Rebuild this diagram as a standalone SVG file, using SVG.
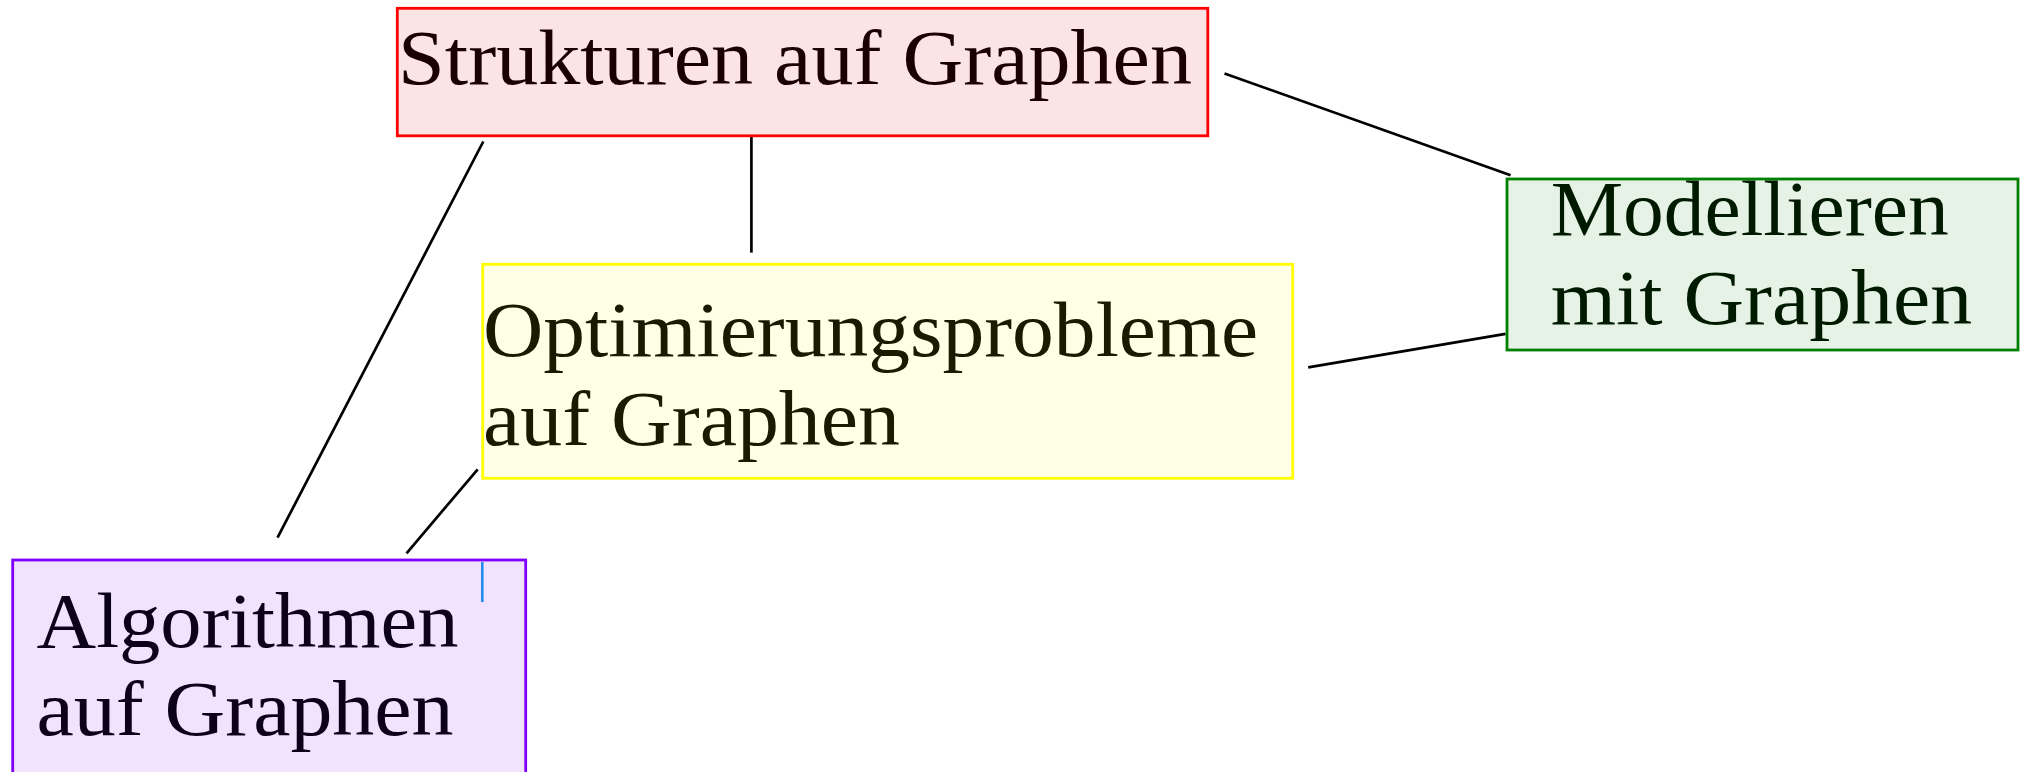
<svg xmlns="http://www.w3.org/2000/svg" width="2021" height="772" viewBox="0 0 2021 772">
  <style>
    .box { stroke-width: 2.8; }
    .lbl { font-family: "Liberation Serif", "DejaVu Serif", serif; font-size: 79px; }
    .edge { stroke: #000; stroke-width: 2.7; fill: none; stroke-linecap: butt; }
  </style>
  <rect width="2021" height="772" fill="#ffffff"/>

  <!-- connectors -->
  <g id="connectors">
    <line class="edge" x1="1224.5" y1="73.5" x2="1510.6" y2="175.3"/>
    <line class="edge" x1="751.4" y1="135.5" x2="751.4" y2="252.6"/>
    <line class="edge" x1="483.3" y1="141.5" x2="277.5" y2="537.7"/>
    <line class="edge" x1="477.7" y1="469.3" x2="406.5" y2="553.3"/>
    <line class="edge" x1="1308.2" y1="367.3" x2="1505.5" y2="333.8"/>
  </g>

  <!-- Strukturen auf Graphen -->
  <g id="strukturen">
    <rect class="box" x="397.3" y="8.3" width="810.5" height="127.5" fill="#fde4e4" stroke="#ff0000"/>
    <text class="lbl" x="398" y="84" fill="#1a0000" textLength="794" lengthAdjust="spacingAndGlyphs">Strukturen auf Graphen</text>
  </g>

  <!-- Modellieren mit Graphen -->
  <g id="modellieren">
    <rect class="box" x="1507" y="179" width="511" height="171" fill="#e6f2e6" stroke="#008000"/>
    <text class="lbl" x="1550.7" y="235" fill="#001a00" textLength="398" lengthAdjust="spacingAndGlyphs">Modellieren</text>
    <text class="lbl" x="1550.7" y="324" fill="#001a00" textLength="421.5" lengthAdjust="spacingAndGlyphs">mit Graphen</text>
  </g>

  <!-- Optimierungsprobleme auf Graphen -->
  <g id="optimierung">
    <rect class="box" x="482.7" y="264.3" width="810" height="214" fill="#ffffe6" stroke="#ffff00"/>
    <text class="lbl" x="483" y="356" fill="#1a1a00" textLength="775" lengthAdjust="spacingAndGlyphs">Optimierungsprobleme</text>
    <text class="lbl" x="483" y="445" fill="#1a1a00" textLength="417" lengthAdjust="spacingAndGlyphs">auf Graphen</text>
  </g>

  <!-- Algorithmen auf Graphen -->
  <g id="algorithmen">
    <rect class="box" x="12.7" y="560" width="513" height="240" fill="#f1e3fd" stroke="#8000ff"/>
    <line x1="482.3" y1="562" x2="482.3" y2="602" stroke="#1e88f0" stroke-width="2.5"/>
    <text class="lbl" x="36.5" y="647" fill="#0d001a" textLength="422" lengthAdjust="spacingAndGlyphs">Algorithmen</text>
    <text class="lbl" x="36.5" y="735" fill="#0d001a" textLength="417" lengthAdjust="spacingAndGlyphs">auf Graphen</text>
  </g>
</svg>
